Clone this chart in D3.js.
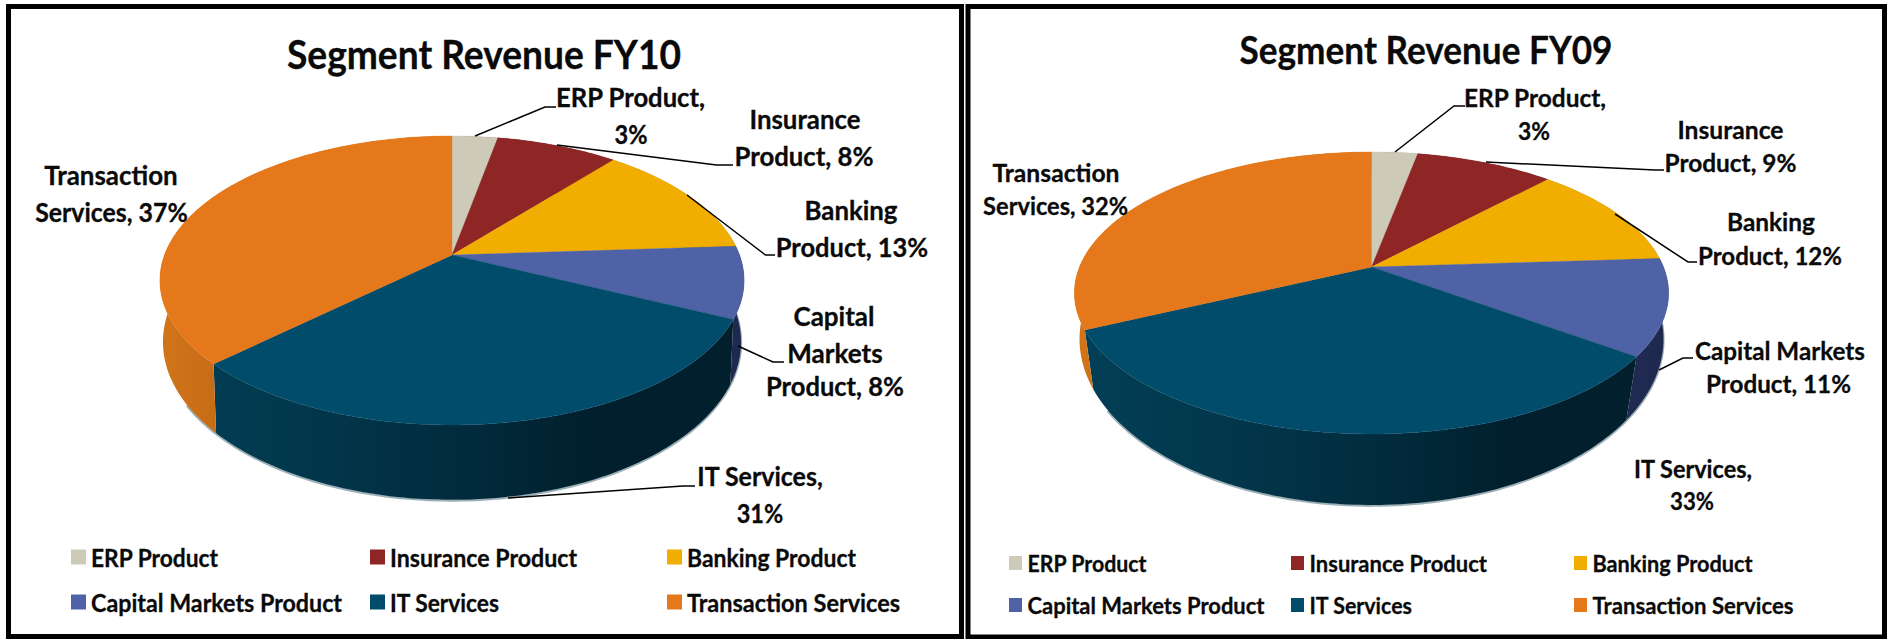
<!DOCTYPE html>
<html><head><meta charset="utf-8">
<script src="https://cdnjs.cloudflare.com/ajax/libs/d3/7.8.5/d3.min.js"></script>
<style>html,body{margin:0;padding:0;background:#fff}svg{display:block}text{font-family:Lato,"Open Sans",sans-serif;font-weight:700;fill:#0a0a0a;stroke:#0a0a0a;stroke-width:.3px}</style>
</head><body><svg id="c" width="1889" height="639"></svg>
<script>
// ---- data ----
const categories = ["ERP Product","Insurance Product","Banking Product","Capital Markets Product","IT Services","Transaction Services"];
const fy10Values = [3,8,13,8,31,37];
const fy09Values = [3,9,12,11,33,32];
const colors = ["#cdcbb8","#8f2626","#f2ae00","#4f62a6","#024c6b","#e5781a"];
const fy10Title = "Segment Revenue FY10";
const fy09Title = "Segment Revenue FY09";

// ---- layout of each panel ----
const panels = [
 {title:fy10Title, values:fy10Values, titleBox:[484,53,394], titleSize:41,
  top:{cx:452,cy:255,A:140,B:287.5,k:.1765}, bottom:{cx:452,cy:314,A:153,B:284.5,k:.1765},
  frame:[8.5,6.5,953,630],
  labels:[["ERP Product,",630.5,97,149],["3%",631,134,33],["Insurance",805,119,111],["Product, 8%",804,156,139],
    ["Banking",851,210,93],["Product, 13%",852,246.5,152.5],["Capital",834,316,81],["Markets",835,353,95.5],["Product, 8%",835,386,138],
    ["IT Services,",760,476,125.5],["31%",760,513,46.5],["Transaction",111,175,133.5],["Services, 37%",111.5,212,152.5]],
  labelSize:26,
  leaders:[[[475,136],[545,107],[556,107]],[[557,145],[716.5,165],[733,165]],[[687,195],[765.5,255],[775,255]],[[738,346],[773,362],[784,362]],[[508,498],[683,486],[695,486]]],
  legendCols:[71,370,667], legendRows:[557,602], swatch:[15,15], textOff:20,
  legendW:[127,187,169,251,109,213], legendSize:24},
 {title:fy09Title, values:fy09Values, titleBox:[1426,49,373], titleSize:39,
  top:{cx:1371.5,cy:267,A:136.2,B:292,k:.1844}, bottom:{cx:1371.5,cy:315.8,A:162.7,B:289.1,k:.14},
  frame:[968,6.5,916.5,630.5],
  labels:[["ERP Product,",1535,97,142],["3%",1534,130,32],["Insurance",1730.5,129,106],["Product, 9%",1730.5,162,132],
    ["Banking",1771,221,88],["Product, 12%",1770,255,144],["Capital Markets",1780,350,170],["Product, 11%",1778.5,383,145],
    ["IT Services,",1693,468,118],["33%",1692,500,44],["Transaction",1056,172,127],["Services, 32%",1055.6,205,145]],
  labelSize:25,
  leaders:[[[1395,152],[1454,106],[1465,106]],[[1486,162],[1655,170],[1664,170]],[[1615,214],[1688,262],[1697,262]],[[1659,370],[1683,358],[1693,358]]],
  legendCols:[1009,1291,1574], legendRows:[563,605], swatch:[13,14], textOff:18.5,
  legendW:[119,177.5,160,237,102.5,201], legendSize:23}
];

const svg = d3.select("#c");
const defs = svg.append("defs");
const pie = d3.pie().sort(null).value(d=>d).startAngle(0).endAngle(2*Math.PI);

// perspective projection of a unit circle (angle clockwise from the top)
const project = (p,a,r=1)=>{
  const u=r*Math.sin(a), v=r*Math.cos(a), w=1+p.k*v;
  return [p.cx+p.B*u/w, p.cy-p.A*v/w];
};
const arcPts=(p,a0,a1)=>{
  const n=Math.max(2,Math.ceil((a1-a0)/0.02));
  return d3.range(n+1).map(i=>project(p,a0+(a1-a0)*i/n));
};
const line=d3.line();

panels.forEach((P,pi)=>{
  const g=svg.append("g");
  g.append("rect").attr("x",P.frame[0]).attr("y",P.frame[1]).attr("width",P.frame[2]).attr("height",P.frame[3])
    .attr("fill","#fff").attr("stroke","#000").attr("stroke-width",5);
  g.append("text").text(P.title).attr("x",P.titleBox[0]).attr("y",P.titleBox[1]).attr("text-anchor","middle")
    .attr("dominant-baseline","central").style("font-size",P.titleSize+"px")
    .attr("textLength",P.titleBox[2]).attr("lengthAdjust","spacingAndGlyphs");

  const x0=P.bottom.cx-P.bottom.B, x1=P.bottom.cx+P.bottom.B;
  // wall gradients
  const grad=(id,stops)=>{
    const lg=defs.append("linearGradient").attr("id",id).attr("gradientUnits","userSpaceOnUse")
      .attr("x1",x0).attr("x2",x1).attr("y1",0).attr("y2",0);
    stops.forEach(s=>lg.append("stop").attr("offset",s[0]).attr("stop-color",s[1]));
  };
  const darken=(c,f)=>d3.color(c).darker(f).formatHex();
  const wallFill=[
    [[0,darken(colors[0],.7)],[1,darken(colors[0],1.8)]],
    [[0,darken(colors[1],.7)],[1,darken(colors[1],1.8)]],
    [[0,darken(colors[2],.7)],[1,darken(colors[2],1.8)]],
    [[0,"#2c3768"],[1,"#1f2950"]],
    [[0,"#023f57"],[.3,"#023549"],[.55,"#012a3b"],[.75,"#011f2c"],[1,"#011f2c"]],
    [[0,"#d0741a"],[.1,"#c56b16"],[1,"#a85a12"]]
  ];
  wallFill.forEach((s,i)=>grad(`w${pi}_${i}`,s));

  const arcs=pie(P.values);
  // grey fringe below the base rim
  const rimAngles=[Math.PI*0.42,Math.PI*1.32];
  g.append("path").attr("d",line(arcPts(P.bottom,rimAngles[0],rimAngles[1])))
    .attr("fill","none").attr("stroke","#9db0b7").attr("stroke-width",2.2).attr("transform","translate(0,0.8)");
  // side walls
  arcs.forEach((d,i)=>{
    const pts=arcPts(P.top,d.startAngle,d.endAngle).concat(arcPts(P.bottom,d.startAngle,d.endAngle).reverse());
    g.append("path").attr("d",line(pts)+"Z").attr("fill",`url(#w${pi}_${i})`);
  });
  // top faces
  arcs.forEach((d,i)=>{
    const pts=[[P.top.cx,P.top.cy]].concat(arcPts(P.top,d.startAngle,d.endAngle));
    g.append("path").attr("d",line(pts)+"Z").attr("fill",colors[i]).attr("stroke",colors[i]).attr("stroke-width",.4);
  });
  // leader lines
  P.leaders.forEach(l=>g.append("path").attr("d",line(l)).attr("fill","none").attr("stroke","#000").attr("stroke-width",1.5));
  // data labels
  P.labels.forEach(l=>g.append("text").text(l[0]).attr("x",l[1]).attr("y",l[2]).attr("text-anchor","middle")
    .attr("dominant-baseline","central").style("font-size",P.labelSize+"px")
    .attr("textLength",l[3]).attr("lengthAdjust","spacingAndGlyphs"));
  // legend
  categories.forEach((c,i)=>{
    const x=P.legendCols[i%3], y=P.legendRows[Math.floor(i/3)];
    g.append("rect").attr("x",x).attr("y",y-P.swatch[1]/2).attr("width",P.swatch[0]).attr("height",P.swatch[1]).attr("fill",colors[i]);
    g.append("text").text(c).attr("x",x+P.textOff).attr("y",y).attr("dominant-baseline","central")
      .style("font-size",P.legendSize+"px").attr("textLength",P.legendW[i]).attr("lengthAdjust","spacingAndGlyphs");
  });
});
</script></body></html>
